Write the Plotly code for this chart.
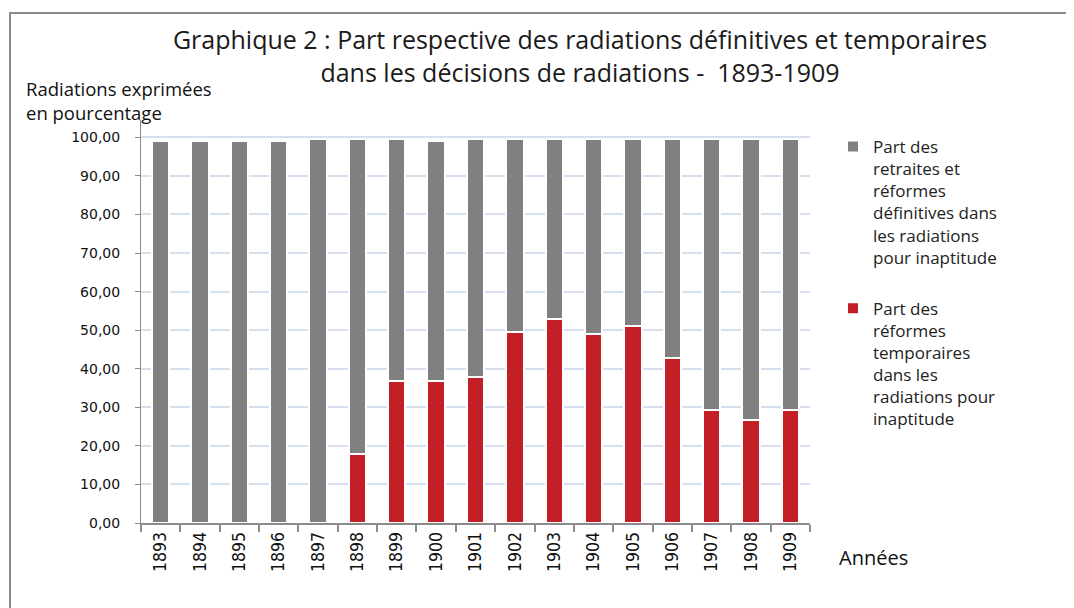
import plotly.graph_objects as go

years = ["1893", "1894", "1895", "1896", "1897", "1898", "1899", "1900", "1901",
         "1902", "1903", "1904", "1905", "1906", "1907", "1908", "1909"]
temporaires = [None, None, None, None, None, 17.8, 36.8, 36.8, 37.9,
               49.6, 52.9, 49.0, 51.1, 42.8, 29.2, 26.8, 29.2]
definitives = [99.0, 99.0, 99.0, 99.0, 99.6, 81.8, 62.8, 62.2, 61.7,
               50.0, 46.7, 50.6, 48.5, 56.8, 70.4, 72.8, 70.4]
y_ticks = [0, 10, 20, 30, 40, 50, 60, 70, 80, 90, 100]

name_def = "Part des<br>retraites et<br>réformes<br>définitives dans<br>les radiations<br>pour inaptitude"
name_temp = "Part des<br>réformes<br>temporaires<br>dans les<br>radiations pour<br>inaptitude"

W, H = 1074, 608
OFF = 8  # page body margin offset in the browser
# target screen positions of plot area
SX0, SX1, SY0, SY1 = 141, 810, 120, 522.7
L = SX0 - OFF
R = W - (SX1 - OFF)
T = SY0 - OFF
B = H - (SY1 - OFF)
pw, ph = W - L - R, H - T - B

def px_x(x):
    return (x - OFF - L) / pw

def px_y(y):
    return (H - B - (y - OFF)) / ph

fig = go.Figure()
fig.add_trace(go.Bar(x=years, y=temporaires, name=name_temp, legendgroup="temp", legendrank=2,
                     marker=dict(color="#c31f27", line=dict(color="white", width=2))))
fig.add_trace(go.Bar(x=years, y=definitives, name=name_def, legendgroup="def", legendrank=1,
                     marker=dict(color="#808080", line=dict(color="white", width=2))))

fig.update_layout(
    width=W, height=H,
    margin=dict(l=L, r=R, t=T, b=B, autoexpand=False),
    barmode="stack", bargap=0.56,
    separators=", ",
    paper_bgcolor="white", plot_bgcolor="white",
    font=dict(family="Open Sans, sans-serif", color="#222"),
    title=dict(text="Graphique 2 : Part respective des radiations définitives et temporaires<br>dans les décisions de radiations -  1893-1909",
               x=(580 - OFF) / W, xanchor="center", xref="container", yref="container",
               y=1 - (49 - OFF) / H, yanchor="top",
               font=dict(family="Open Sans, sans-serif", size=25, color="#1a1a1a")),
    legend=dict(x=px_x(833), y=px_y(129), xanchor="left", yanchor="top",
                traceorder="grouped", valign="top", tracegroupgap=26,
                font=dict(family="Open Sans, sans-serif", size=17, color="#222"),
                bgcolor="rgba(0,0,0,0)"),
    xaxis=dict(type="category", showline=True, linecolor="#8c8c8c", linewidth=2,
               automargin=False,
               ticks="outside", tickson="boundaries", ticklen=7, tickcolor="#8c8c8c",
               tickwidth=2, tickangle=-90,
               tickfont=dict(family="Liberation Sans Narrow, DejaVu Sans Condensed, sans-serif",
                             size=17.5, color="#111"),
               showgrid=False),
    yaxis=dict(range=[0, 104.5], tickvals=y_ticks, tickformat=".2f",
               automargin=False,
               showline=True, linecolor="#8c8c8c", linewidth=1,
               ticks="outside", ticklen=5, tickcolor="#8c8c8c",
               ticklabelstandoff=12,
               tickfont=dict(family="DejaVu Sans, sans-serif", size=14, color="#111"),
               showgrid=True, gridcolor="#d6dff0", gridwidth=1.5, zeroline=False),
    annotations=[
        dict(text="Radiations exprimées<br>en pourcentage", xref="paper", yref="paper",
             x=px_x(24), y=px_y(74), xanchor="left", yanchor="top", align="left",
             showarrow=False, font=dict(family="Open Sans, sans-serif", size=18.5, color="#111")),
        dict(text="Années", xref="paper", yref="paper",
             x=px_x(837), y=px_y(557), xanchor="left", yanchor="middle",
             showarrow=False, font=dict(family="Open Sans, sans-serif", size=20, color="#111")),
    ],
    shapes=[
        dict(type="rect", xref="paper", yref="paper",
             x0=px_x(10), x1=px_x(1100), y0=px_y(640), y1=px_y(13),
             line=dict(color="#8a8a8a", width=2), fillcolor="rgba(0,0,0,0)", layer="below"),
    ],
)

fig.write_html("out.html")
